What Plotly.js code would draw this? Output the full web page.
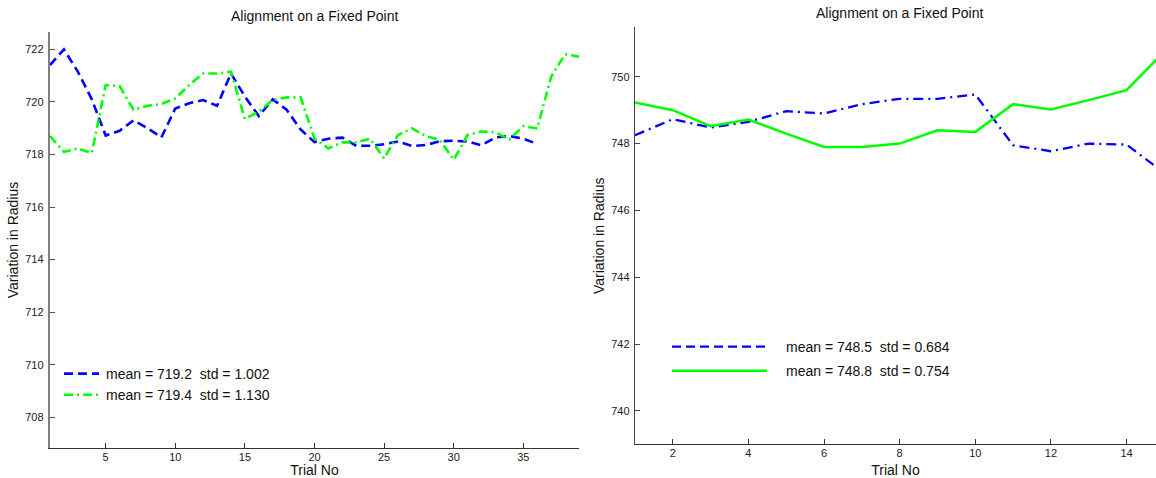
<!DOCTYPE html>
<html><head><meta charset="utf-8">
<script src="https://cdn.plot.ly/plotly-3.0.1.min.js"></script>
<style>html,body{margin:0;padding:0;overflow:hidden;background:#fff}#chart{width:1156px;height:478px}</style>
</head><body><div id="chart"></div>
<script>
// ---- data ----
const leftTrials = [1,2,3,4,5,6,7,8,9,10,11,12,13,14,15,16,17,18,19,20,21,22,23,24,25,26,27,28,29,30,31,32,33,34,35,36,37,38,39];
const leftBlue = [721.4,722.0,721.15,720.1,718.72,718.9,719.3,719.0,718.65,719.75,719.95,720.07,719.85,721.08,720.2,719.46,720.1,719.7,718.95,718.47,718.6,718.64,718.33,718.33,718.39,718.49,718.32,718.36,718.5,718.52,718.49,718.35,718.65,718.7,718.6,718.4];
const leftGreen = [718.7,718.1,718.23,718.05,720.64,720.6,719.7,719.85,719.92,720.13,720.64,721.08,721.08,721.15,719.35,719.63,720.07,720.17,720.17,718.6,718.23,718.46,718.46,718.6,717.85,718.74,718.99,718.7,718.55,717.8,718.74,718.87,718.84,718.57,719.08,718.99,720.96,721.81,721.72];
const rightTrials = [1,2,3,4,5,6,7,8,9,10,11,12,13,14,15];
const rightBlue = [748.25,748.73,748.48,748.65,748.97,748.9,749.18,749.34,749.34,749.47,747.95,747.77,748.0,747.97,747.12];
const rightGreen = [749.23,749.0,748.52,748.72,748.3,747.9,747.9,748.0,748.4,748.35,749.18,749.02,749.3,749.6,750.75];
const leftLegend = ['mean = 719.2  std = 1.002', 'mean = 719.4  std = 1.130'];
const rightLegend = ['mean = 748.5  std = 0.684', 'mean = 748.8  std = 0.754'];
const titleText = 'Alignment on a Fixed Point';
const xTitle = 'Trial No';
const yTitle = 'Variation in Radius';

// ---- layout ----
const W = 1156, H = 478;
const FONT = '"Liberation Sans", Arial, Helvetica, sans-serif';
const sp = s => s.replace(/  /g, '\u00a0 ');
const fx = px => px / W;
const fy = py => 1 - py / H;

const traces = [
  {x: leftTrials.slice(0, leftBlue.length), y: leftBlue, mode: 'lines', name: sp(leftLegend[0]),
   line: {color: '#0000ff', width: 2.6, dash: '9px,5px'}, xaxis: 'x', yaxis: 'y', legend: 'legend'},
  {x: leftTrials, y: leftGreen, mode: 'lines', name: sp(leftLegend[1]),
   line: {color: '#00ff00', width: 2.6, dash: '9px,4px,2px,4px'}, xaxis: 'x', yaxis: 'y', legend: 'legend'},
  {x: rightTrials, y: rightBlue, mode: 'lines', name: sp(rightLegend[0]), legendgroup: 'a',
   line: {color: '#0000ff', width: 2.3, dash: '10px,5px,2px,5px'}, xaxis: 'x2', yaxis: 'y2', legend: 'legend2'},
  {x: rightTrials, y: rightGreen, mode: 'lines', name: sp(rightLegend[1]), legendgroup: 'b',
   line: {color: '#00ff00', width: 2.5}, xaxis: 'x2', yaxis: 'y2', legend: 'legend2'}
];

const tickFont = {family: FONT, size: 11, color: '#222'};
const titleFont = {family: FONT, size: 14, color: '#111'};
const common = {showgrid: false, zeroline: false, showline: true, ticks: 'inside', ticklen: 5,
  tickwidth: 1, tickfont: tickFont, fixedrange: true};

const layout = {
  width: W, height: H,
  margin: {l: 0, r: 0, t: 0, b: 0},
  paper_bgcolor: '#fff', plot_bgcolor: '#fff',
  font: {family: FONT, color: '#111'},
  xaxis: Object.assign({}, common, {domain: [fx(50), fx(579)], range: [1, 39], tick0: 0, dtick: 5,
    anchor: 'y', linecolor: '#333', linewidth: 1, tickcolor: '#333', ticklabelstandoff: -2,
    title: {text: xTitle, font: titleFont, standoff: 8}}),
  yaxis: Object.assign({}, common, {domain: [fy(448.3), fy(31.7)], range: [706.82, 722.67], tick0: 0, dtick: 2,
    anchor: 'x', linecolor: '#7f7f7f', linewidth: 2.2, tickcolor: '#555', ticklabelstandoff: 2,
    title: {text: yTitle, font: titleFont, standoff: 3}}),
  xaxis2: Object.assign({}, common, {domain: [fx(635), 1], range: [1, 14.78], tick0: 0, dtick: 2,
    anchor: 'y2', linecolor: '#333', linewidth: 1, tickcolor: '#333', ticklabelstandoff: -2,
    title: {text: xTitle, font: titleFont, standoff: 8}}),
  yaxis2: Object.assign({}, common, {domain: [fy(444.3), fy(27.3)], range: [739, 751.48], tick0: 0, dtick: 2,
    anchor: 'x2', linecolor: '#444', linewidth: 1.3, tickcolor: '#444', ticklabelstandoff: 2,
    title: {text: yTitle, font: titleFont, standoff: 3}}),
  showlegend: true,
  legend: {x: fx(59), y: fy(358), xanchor: 'left', yanchor: 'top', bgcolor: 'rgba(0,0,0,0)',
    borderwidth: 0, font: {family: FONT, size: 14, color: '#111'}, itemwidth: 37, tracegroupgap: 0},
  legend2: {x: fx(667), y: fy(331), xanchor: 'left', yanchor: 'top', bgcolor: 'rgba(0,0,0,0)',
    borderwidth: 0, font: {family: FONT, size: 14, color: '#111'}, itemwidth: 109,
    traceorder: 'grouped', tracegroupgap: 3},
  annotations: [
    {text: titleText, xref: 'paper', yref: 'paper', x: fx(314.5), y: fy(16), xanchor: 'center', yanchor: 'middle',
     showarrow: false, font: {family: FONT, size: 14, color: '#111'}},
    {text: titleText, xref: 'paper', yref: 'paper', x: fx(899), y: fy(13), xanchor: 'center', yanchor: 'middle',
     showarrow: false, font: {family: FONT, size: 14, color: '#111'}}
  ]
};

const gd = document.getElementById('chart');
Plotly.newPlot(gd, traces, layout, {staticPlot: true, displayModeBar: false}).then(() => {
  const fix = (cls, len, dashes) => {
    gd.querySelectorAll('g.' + cls + ' g.traces').forEach((g, i) => {
      const p = g.querySelector('path.js-line');
      if (p) {
        p.setAttribute('d', 'M5,0h' + len);
        if (dashes[i]) p.style.strokeDasharray = dashes[i];
      }
    });
  };
  fix('legend', 35, ['9px,5px', '9px,4px,2px,4px']);
  fix('legend2', 95, ['9px,5px', null]);
});
</script>
</body></html>
